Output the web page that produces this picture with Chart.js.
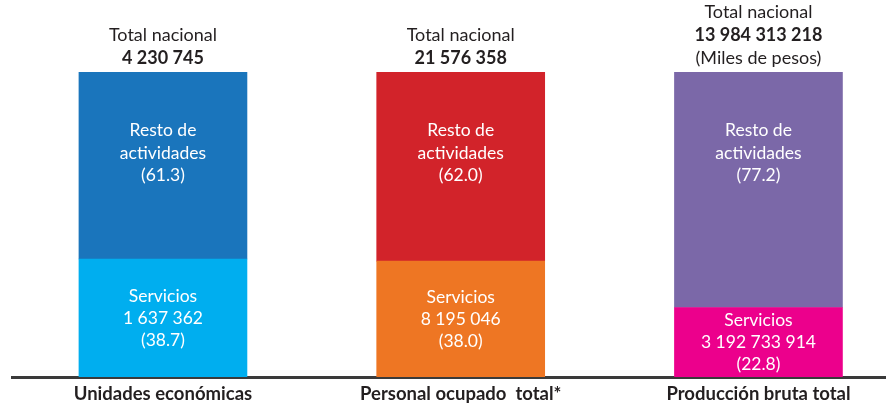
<!DOCTYPE html>
<html>
<head>
<meta charset="utf-8">
<script src="https://cdn.jsdelivr.net/npm/chart.js@4"></script>
<style>
  html, body { margin: 0; padding: 0; background: #fff; }
  #wrap { width: 895px; height: 406px; }
</style>
</head>
<body>
<div id="wrap"><canvas id="myChart" width="895" height="406"></canvas></div>
<script>
// data
const categories = ['Unidades económicas', 'Personal ocupado  total*', 'Producción bruta total'];
const servicesPct = [38.7, 38.0, 22.8];
const restPct = [61.3, 62.0, 77.2];
const servicesValues = ['1 637 362', '8 195 046', '3 192 733 914'];
const nationalTotals = ['4 230 745', '21 576 358', '13 984 313 218'];
const totalNotes = ['', '', '(Miles de pesos)'];
const servicesColors = ['#00AEEF', '#EE7623', '#EC008C'];
const restColors = ['#1A75BC', '#D2232A', '#7B68A8'];

const FONT = 'Lato, "Open Sans", sans-serif';

// text written inside and above the bars
const barText = {
  id: 'barText',
  afterDatasetsDraw(chart) {
    const ctx = chart.ctx;
    const serv = chart.getDatasetMeta(0).data;
    const rest = chart.getDatasetMeta(1).data;
    ctx.save();
    ctx.textAlign = 'center';
    ctx.textBaseline = 'middle';
    for (let i = 0; i < categories.length; i++) {
      const s = serv[i], r = rest[i];
      // services block, centered in its segment
      ctx.fillStyle = '#fff';
      ctx.font = '17.5px ' + FONT;
      let mid = (s.y + s.base) / 2;
      ctx.fillText('Servicios', s.x, mid - 22);
      ctx.fillText(servicesValues[i], s.x, mid);
      ctx.fillText('(' + servicesPct[i].toFixed(1) + ')', s.x, mid + 22);
      // rest block
      let top = r.y + 58;
      ctx.fillText('Resto de', r.x, top);
      ctx.fillText('actividades', r.x, top + 23);
      ctx.fillText('(' + restPct[i].toFixed(1) + ')', r.x, top + 45);
      // totals above
      ctx.fillStyle = '#231F20';
      let lines = [['Total nacional', false], [nationalTotals[i], true]];
      if (totalNotes[i]) lines.push([totalNotes[i], false]);
      let y = r.y - 14 - (lines.length - 1) * 23;
      lines.forEach(l => {
        ctx.font = (l[1] ? 'bold ' : '') + '18px ' + FONT;
        ctx.fillText(l[0], r.x, y);
        y += 23;
      });
    }
    ctx.restore();
  }
};

const data = {
  datasets: [
    {
      label: 'Servicios',
      data: servicesPct.map((v, i) => ({ x: i, y: v })),
      backgroundColor: servicesColors,
      borderWidth: 0
    },
    {
      label: 'Resto de actividades',
      data: restPct.map((v, i) => ({ x: i, y: v })),
      backgroundColor: restColors,
      borderWidth: 0
    }
  ]
};

const config = {
  type: 'bar',
  data: data,
  plugins: [barText],
  options: {
    responsive: false,
    animation: false,
    barThickness: 168,
    layout: { padding: { top: 72, left: 12, right: 10, bottom: 3 } },
    plugins: { legend: { display: false }, tooltip: { enabled: false } },
    scales: {
      x: {
        type: 'linear',
        stacked: true,
        offset: false,
        min: -0.507,
        max: 2.425,
        afterBuildTicks: (axis) => { axis.ticks = categories.map((c, i) => ({ value: i })); },
        afterFit: (axis) => { axis.height = 26; },
        grid: { display: false, drawTicks: false },
        border: { display: true, color: '#3a3a3a', width: 3 },
        ticks: {
          padding: 6,
          color: '#231F20',
          font: { family: FONT, size: 18.5, weight: 'bold' },
          maxRotation: 0,
          autoSkip: false,
          callback: (v) => categories[v]
        }
      },
      y: {
        stacked: true,
        min: 0,
        max: 100,
        display: false
      }
    }
  }
};

const myChart = new Chart(document.getElementById('myChart'), config);
</script>
</body>
</html>
